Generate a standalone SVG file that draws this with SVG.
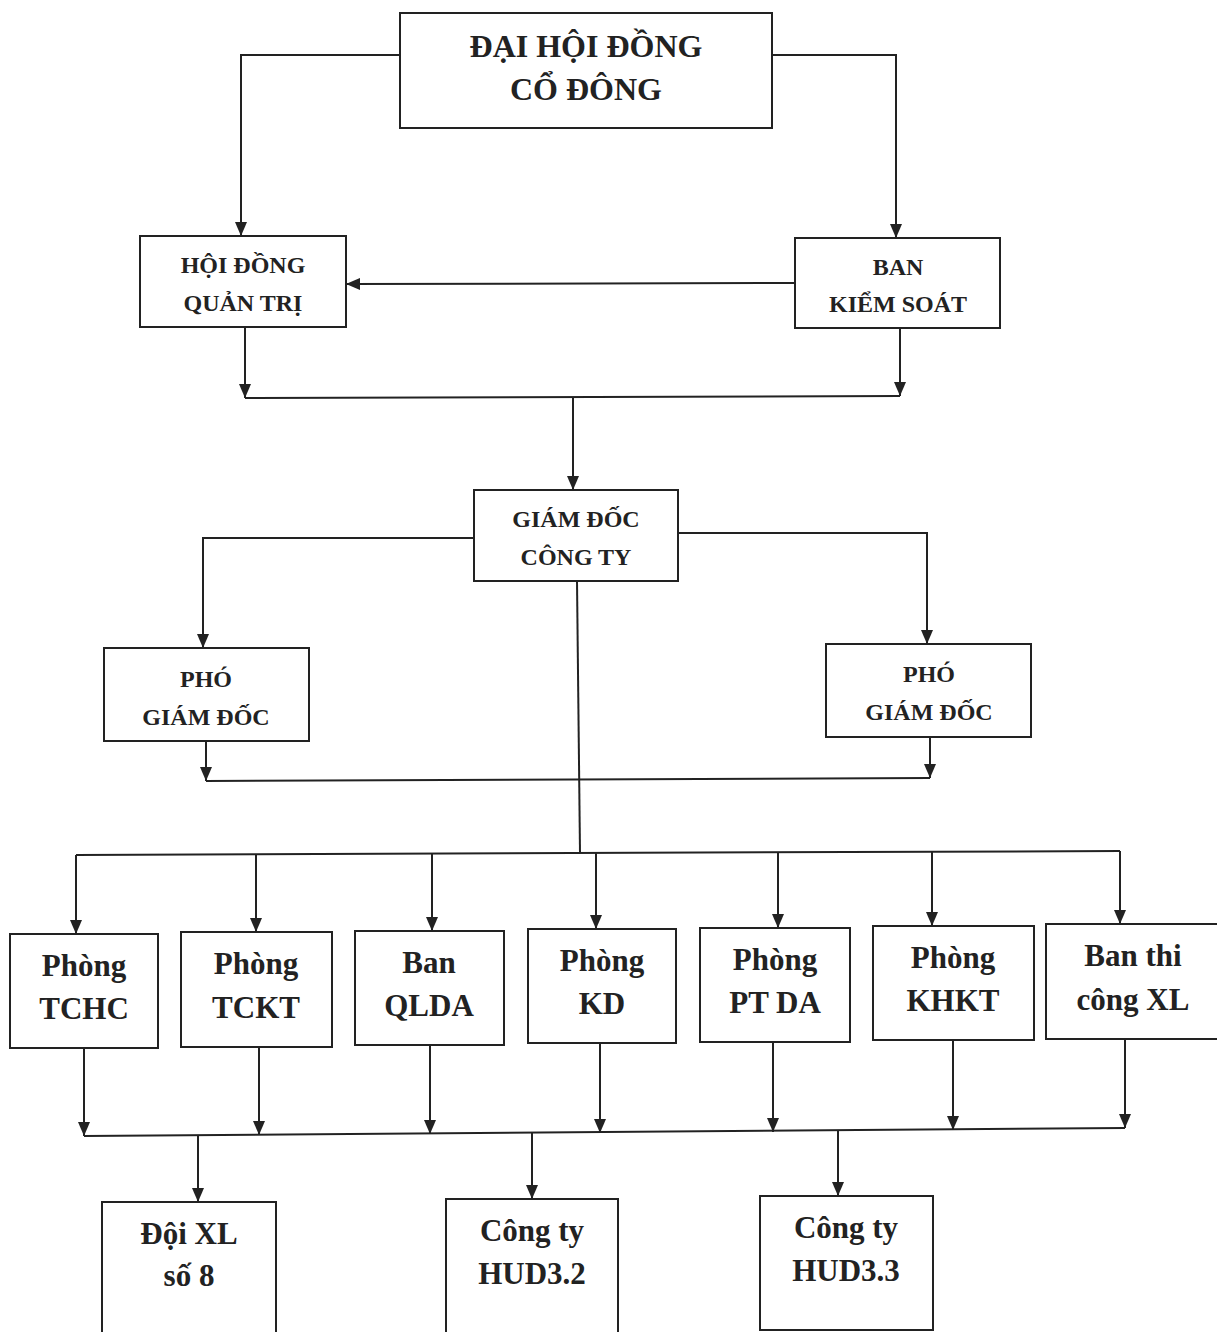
<svg xmlns="http://www.w3.org/2000/svg" width="1217" height="1332" viewBox="0 0 1217 1332">
<defs>
<marker id="ah" viewBox="0 0 14 12" refX="14" refY="6" markerWidth="14" markerHeight="12" markerUnits="userSpaceOnUse" orient="auto">
<path d="M0,0 L14,6 L0,12 Z" style="fill:#222;stroke:none"/>
</marker>
<style>
.box{fill:#fff;stroke:#222;stroke-width:2}
.c line,.c polyline{fill:none;stroke:#222;stroke-width:2}
text{font-family:"Liberation Serif","Times New Roman",serif;font-weight:bold;fill:#222;text-anchor:middle}
.t1{font-size:32px}
.t2{font-size:24px}
.t3{font-size:31px}
</style>
</defs>
<rect width="1217" height="1332" style="fill:#fff;stroke:none"/>
<g class="c" id="connectors">
<polyline points="400,55 241,55 241,236" marker-end="url(#ah)"/>
<polyline points="772,55 896,55 896,238" marker-end="url(#ah)"/>
<line x1="795" y1="283" x2="346" y2="284" marker-end="url(#ah)"/>
<line x1="245" y1="327" x2="245" y2="398" marker-end="url(#ah)"/>
<line x1="900" y1="328" x2="900" y2="396" marker-end="url(#ah)"/>
<line x1="245" y1="398" x2="900" y2="396"/>
<line x1="573" y1="398" x2="573" y2="490" marker-end="url(#ah)"/>
<polyline points="474,538 203,538 203,648" marker-end="url(#ah)"/>
<polyline points="678,533 927,533 927,644" marker-end="url(#ah)"/>
<line x1="206" y1="741" x2="206" y2="781" marker-end="url(#ah)"/>
<line x1="930" y1="737" x2="930" y2="778" marker-end="url(#ah)"/>
<line x1="206" y1="781" x2="930" y2="778"/>
<line x1="577" y1="581" x2="580" y2="853"/>
<line x1="76" y1="855" x2="1120" y2="851"/>
<line x1="76" y1="855" x2="76" y2="934" marker-end="url(#ah)"/>
<line x1="256" y1="855" x2="256" y2="932" marker-end="url(#ah)"/>
<line x1="432" y1="854" x2="432" y2="931" marker-end="url(#ah)"/>
<line x1="596" y1="853" x2="596" y2="929" marker-end="url(#ah)"/>
<line x1="778" y1="853" x2="778" y2="928" marker-end="url(#ah)"/>
<line x1="932" y1="852" x2="932" y2="926" marker-end="url(#ah)"/>
<line x1="1120" y1="851" x2="1120" y2="924" marker-end="url(#ah)"/>
<line x1="84" y1="1048" x2="84" y2="1136" marker-end="url(#ah)"/>
<line x1="259" y1="1047" x2="259" y2="1135" marker-end="url(#ah)"/>
<line x1="430" y1="1045" x2="430" y2="1134" marker-end="url(#ah)"/>
<line x1="600" y1="1043" x2="600" y2="1133" marker-end="url(#ah)"/>
<line x1="773" y1="1042" x2="773" y2="1132" marker-end="url(#ah)"/>
<line x1="953" y1="1040" x2="953" y2="1130" marker-end="url(#ah)"/>
<line x1="1125" y1="1039" x2="1125" y2="1128" marker-end="url(#ah)"/>
<line x1="84" y1="1136" x2="1125" y2="1128"/>
<line x1="198" y1="1135" x2="198" y2="1202" marker-end="url(#ah)"/>
<line x1="532" y1="1133" x2="532" y2="1199" marker-end="url(#ah)"/>
<line x1="838" y1="1131" x2="838" y2="1196" marker-end="url(#ah)"/>
</g>
<g id="dhdcd"><rect class="box" x="400" y="13" width="372" height="115"/><text class="t1" x="586" y="57">ĐẠI HỘI ĐỒNG</text><text class="t1" x="586" y="100">CỔ ĐÔNG</text></g>
<g id="hdqt"><rect class="box" x="140" y="236" width="206" height="91"/><text class="t2" x="243" y="273">HỘI ĐỒNG</text><text class="t2" x="243" y="311">QUẢN TRỊ</text></g>
<g id="bks"><rect class="box" x="795" y="238" width="205" height="90"/><text class="t2" x="898" y="275">BAN</text><text class="t2" x="898" y="312">KIỂM SOÁT</text></g>
<g id="gd"><rect class="box" x="474" y="490" width="204" height="91"/><text class="t2" x="576" y="527">GIÁM ĐỐC</text><text class="t2" x="576" y="565">CÔNG TY</text></g>
<g id="pgd1"><rect class="box" x="104" y="648" width="205" height="93"/><text class="t2" x="206" y="687">PHÓ</text><text class="t2" x="206" y="725">GIÁM ĐỐC</text></g>
<g id="pgd2"><rect class="box" x="826" y="644" width="205" height="93"/><text class="t2" x="929" y="682">PHÓ</text><text class="t2" x="929" y="720">GIÁM ĐỐC</text></g>
<g id="tchc"><rect class="box" x="10" y="934" width="148" height="114"/><text class="t3" x="84" y="976">Phòng</text><text class="t3" x="84" y="1019">TCHC</text></g>
<g id="tckt"><rect class="box" x="181" y="932" width="151" height="115"/><text class="t3" x="256" y="974">Phòng</text><text class="t3" x="256" y="1018">TCKT</text></g>
<g id="qlda"><rect class="box" x="355" y="931" width="149" height="114"/><text class="t3" x="429" y="973">Ban</text><text class="t3" x="429" y="1016">QLDA</text></g>
<g id="kd"><rect class="box" x="528" y="929" width="148" height="114"/><text class="t3" x="602" y="971">Phòng</text><text class="t3" x="602" y="1014">KD</text></g>
<g id="ptda"><rect class="box" x="700" y="928" width="150" height="114"/><text class="t3" x="775" y="970">Phòng</text><text class="t3" x="775" y="1013">PT DA</text></g>
<g id="khkt"><rect class="box" x="873" y="926" width="161" height="114"/><text class="t3" x="953" y="968">Phòng</text><text class="t3" x="953" y="1011">KHKT</text></g>
<g id="btcxl"><rect class="box" x="1046" y="924" width="172" height="115"/><text class="t3" x="1133" y="966">Ban thi</text><text class="t3" x="1133" y="1010">công XL</text></g>
<g id="doixl8"><rect class="box" x="102" y="1202" width="174" height="140"/><text class="t3" x="189" y="1244">Đội XL</text><text class="t3" x="189" y="1286">số 8</text></g>
<g id="hud32"><rect class="box" x="446" y="1199" width="172" height="143"/><text class="t3" x="532" y="1241">Công ty</text><text class="t3" x="532" y="1284">HUD3.2</text></g>
<g id="hud33"><rect class="box" x="760" y="1196" width="173" height="134"/><text class="t3" x="846" y="1238">Công ty</text><text class="t3" x="846" y="1281">HUD3.3</text></g>
</svg>
